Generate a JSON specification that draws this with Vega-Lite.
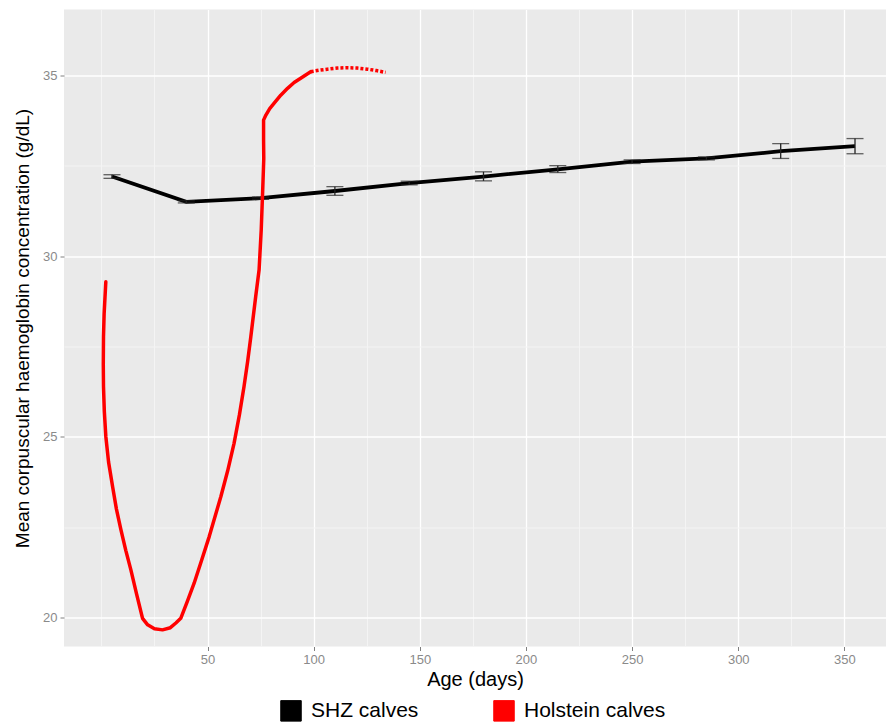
{
  "$schema": "https://vega.github.io/schema/vega-lite/v6.json",
  "autosize": "none",
  "width": 822,
  "height": 637,
  "padding": {"left": 64, "top": 9.5, "right": 3, "bottom": 76.5},
  "background": "white",
  "config": {
    "view": {"fill": "#EAEAEA", "stroke": null},
    "font": "Liberation Sans",
    "axis": {
      "labelFont": "Liberation Sans",
      "labelFontSize": 13,
      "labelColor": "#8a8a8a",
      "tickColor": "#808080",
      "tickSize": 4,
      "domain": false,
      "gridColor": "#FFFFFF",
      "gridWidth": 1.3,
      "titleFont": "Liberation Sans",
      "titleFontWeight": "normal",
      "titleColor": "#000000"
    }
  },
  "datasets": {
    "shz": [
      {"age": 5, "mchc": 32.2, "lo": 32.15, "hi": 32.25, "group": "SHZ calves"},
      {"age": 40, "mchc": 31.5, "lo": 31.47, "hi": 31.53, "group": "SHZ calves"},
      {"age": 75, "mchc": 31.6, "lo": 31.57, "hi": 31.63, "group": "SHZ calves"},
      {"age": 110, "mchc": 31.8, "lo": 31.68, "hi": 31.92, "group": "SHZ calves"},
      {"age": 145, "mchc": 32.02, "lo": 31.97, "hi": 32.07, "group": "SHZ calves"},
      {"age": 180, "mchc": 32.2, "lo": 32.08, "hi": 32.33, "group": "SHZ calves"},
      {"age": 215, "mchc": 32.4, "lo": 32.31, "hi": 32.5, "group": "SHZ calves"},
      {"age": 250, "mchc": 32.61, "lo": 32.56, "hi": 32.66, "group": "SHZ calves"},
      {"age": 285, "mchc": 32.7, "lo": 32.66, "hi": 32.74, "group": "SHZ calves"},
      {"age": 320, "mchc": 32.9, "lo": 32.7, "hi": 33.11, "group": "SHZ calves"},
      {"age": 355, "mchc": 33.04, "lo": 32.83, "hi": 33.25, "group": "SHZ calves"}
    ],
    "hol": [
      {"i": 1, "age": 2.1, "mchc": 29.29, "group": "Holstein calves"},
      {"i": 2, "age": 1.3, "mchc": 28.4, "group": "Holstein calves"},
      {"i": 3, "age": 1.0, "mchc": 27.77, "group": "Holstein calves"},
      {"i": 4, "age": 0.9, "mchc": 27.0, "group": "Holstein calves"},
      {"i": 5, "age": 1.0, "mchc": 26.39, "group": "Holstein calves"},
      {"i": 6, "age": 1.4, "mchc": 25.7, "group": "Holstein calves"},
      {"i": 7, "age": 2.1, "mchc": 25.01, "group": "Holstein calves"},
      {"i": 8, "age": 3.4, "mchc": 24.3, "group": "Holstein calves"},
      {"i": 9, "age": 5.3, "mchc": 23.62, "group": "Holstein calves"},
      {"i": 10, "age": 7.1, "mchc": 23.0, "group": "Holstein calves"},
      {"i": 11, "age": 9.2, "mchc": 22.43, "group": "Holstein calves"},
      {"i": 12, "age": 11.5, "mchc": 21.86, "group": "Holstein calves"},
      {"i": 13, "age": 13.9, "mchc": 21.32, "group": "Holstein calves"},
      {"i": 14, "age": 16.6, "mchc": 20.65, "group": "Holstein calves"},
      {"i": 15, "age": 19.4, "mchc": 19.98, "group": "Holstein calves"},
      {"i": 16, "age": 21.8, "mchc": 19.8, "group": "Holstein calves"},
      {"i": 17, "age": 25.0, "mchc": 19.69, "group": "Holstein calves"},
      {"i": 18, "age": 28.8, "mchc": 19.66, "group": "Holstein calves"},
      {"i": 19, "age": 32.5, "mchc": 19.72, "group": "Holstein calves"},
      {"i": 20, "age": 35.1, "mchc": 19.85, "group": "Holstein calves"},
      {"i": 21, "age": 37.4, "mchc": 19.98, "group": "Holstein calves"},
      {"i": 22, "age": 40.5, "mchc": 20.45, "group": "Holstein calves"},
      {"i": 23, "age": 43.7, "mchc": 20.95, "group": "Holstein calves"},
      {"i": 24, "age": 47.3, "mchc": 21.6, "group": "Holstein calves"},
      {"i": 25, "age": 50.8, "mchc": 22.24, "group": "Holstein calves"},
      {"i": 26, "age": 56.3, "mchc": 23.35, "group": "Holstein calves"},
      {"i": 27, "age": 59.5, "mchc": 24.06, "group": "Holstein calves"},
      {"i": 28, "age": 62.5, "mchc": 24.82, "group": "Holstein calves"},
      {"i": 29, "age": 65.0, "mchc": 25.6, "group": "Holstein calves"},
      {"i": 30, "age": 67.2, "mchc": 26.39, "group": "Holstein calves"},
      {"i": 31, "age": 68.9, "mchc": 27.08, "group": "Holstein calves"},
      {"i": 32, "age": 70.4, "mchc": 27.77, "group": "Holstein calves"},
      {"i": 33, "age": 72.7, "mchc": 28.88, "group": "Holstein calves"},
      {"i": 34, "age": 74.3, "mchc": 29.62, "group": "Holstein calves"},
      {"i": 35, "age": 75.3, "mchc": 30.72, "group": "Holstein calves"},
      {"i": 36, "age": 76.0, "mchc": 31.83, "group": "Holstein calves"},
      {"i": 37, "age": 76.5, "mchc": 32.7, "group": "Holstein calves"},
      {"i": 38, "age": 76.4, "mchc": 33.21, "group": "Holstein calves"},
      {"i": 39, "age": 76.4, "mchc": 33.76, "group": "Holstein calves"},
      {"i": 40, "age": 77.5, "mchc": 33.9, "group": "Holstein calves"},
      {"i": 41, "age": 79.3, "mchc": 34.08, "group": "Holstein calves"},
      {"i": 42, "age": 81.4, "mchc": 34.23, "group": "Holstein calves"},
      {"i": 43, "age": 84.5, "mchc": 34.45, "group": "Holstein calves"},
      {"i": 44, "age": 87.7, "mchc": 34.64, "group": "Holstein calves"},
      {"i": 45, "age": 90.8, "mchc": 34.8, "group": "Holstein calves"},
      {"i": 46, "age": 93.9, "mchc": 34.92, "group": "Holstein calves"},
      {"i": 47, "age": 98.6, "mchc": 35.1, "group": "Holstein calves"}
    ],
    "holdot": [
      {"i": 1, "age": 98.6, "mchc": 35.1},
      {"i": 2, "age": 102.5, "mchc": 35.14},
      {"i": 3, "age": 106.5, "mchc": 35.17},
      {"i": 4, "age": 111.2, "mchc": 35.2},
      {"i": 5, "age": 115.9, "mchc": 35.21},
      {"i": 6, "age": 120.6, "mchc": 35.2},
      {"i": 7, "age": 125.3, "mchc": 35.17},
      {"i": 8, "age": 129.6, "mchc": 35.13},
      {"i": 9, "age": 133.9, "mchc": 35.08}
    ]
  },
  "resolve": {"axis": {"x": "independent", "y": "independent"}},
  "layer": [
    {
      "data": {"name": "shz"},
      "mark": {"type": "line", "color": "black", "strokeWidth": 3.8},
      "encoding": {
        "x": {
          "field": "age", "type": "quantitative",
          "scale": {"domain": [-17.6, 369.6], "nice": false, "zero": false},
          "axis": {
            "orient": "bottom",
            "values": [50, 100, 150, 200, 250, 300, 350],
            "title": "Age (days)",
            "titleFontSize": 20,
            "labelPadding": 3,
            "titlePadding": 3,
            "grid": true
          }
        },
        "y": {
          "field": "mchc", "type": "quantitative",
          "scale": {"domain": [19.2, 36.82], "nice": false, "zero": false},
          "axis": {
            "orient": "left",
            "values": [20, 25, 30, 35],
            "title": "Mean corpuscular haemoglobin concentration (g/dL)",
            "titleFontSize": 19,
            "labelPadding": 3,
            "titlePadding": 10,
            "grid": true
          }
        },
        "color": {
          "field": "group", "type": "nominal",
          "scale": {"domain": ["SHZ calves", "Holstein calves"], "range": ["black", "red"]},
          "legend": {
            "title": null,
            "orient": "none",
            "direction": "horizontal",
            "legendX": 216,
            "legendY": 690,
            "symbolType": "square",
            "symbolSize": 420,
            "labelFontSize": 21,
            "labelFont": "Liberation Sans",
            "labelColor": "black",
            "labelOffset": 9,
            "columnPadding": 72,
            "encode": {
              "symbols": {
                "update": {
                  "fill": {"scale": "color", "field": "value"},
                  "fillOpacity": {"value": 1},
                  "stroke": {"value": "#2a2a70"},
                  "strokeWidth": {"value": 1},
                  "opacity": {"value": 1}
                }
              }
            }
          }
        }
      }
    },
    {
      "data": {"name": "shz"},
      "mark": {"type": "rule", "color": "#222222", "strokeWidth": 1.3},
      "encoding": {
        "x": {"field": "age", "type": "quantitative", "axis": null},
        "y": {"field": "lo", "type": "quantitative", "axis": null},
        "y2": {"field": "hi"}
      }
    },
    {
      "data": {"name": "shz"},
      "mark": {"type": "tick", "orient": "horizontal", "color": "#222222", "size": 17, "thickness": 1.3},
      "encoding": {
        "x": {"field": "age", "type": "quantitative", "axis": null},
        "y": {"field": "lo", "type": "quantitative", "axis": null}
      }
    },
    {
      "data": {"name": "shz"},
      "mark": {"type": "tick", "orient": "horizontal", "color": "#222222", "size": 17, "thickness": 1.3},
      "encoding": {
        "x": {"field": "age", "type": "quantitative", "axis": null},
        "y": {"field": "hi", "type": "quantitative", "axis": null}
      }
    },
    {
      "data": {"name": "hol"},
      "mark": {"type": "line", "strokeWidth": 3.5, "strokeJoin": "round", "strokeCap": "round"},
      "encoding": {
        "x": {
          "field": "age", "type": "quantitative",
          "axis": {
            "orient": "top",
            "values": [0, 25, 75, 125, 175, 225, 275, 325],
            "labels": false, "ticks": false, "title": null,
            "grid": true, "gridColor": "#F4F4F4", "gridWidth": 1
          }
        },
        "y": {
          "field": "mchc", "type": "quantitative",
          "axis": {
            "orient": "right",
            "values": [22.5, 27.5, 32.5],
            "labels": false, "ticks": false, "title": null,
            "grid": true, "gridColor": "#F4F4F4", "gridWidth": 1
          }
        },
        "order": {"field": "i", "type": "quantitative"},
        "color": {"field": "group", "type": "nominal"}
      }
    },
    {
      "data": {"name": "holdot"},
      "mark": {"type": "line", "color": "red", "strokeWidth": 3.5, "strokeDash": [3, 2]},
      "encoding": {
        "x": {"field": "age", "type": "quantitative", "axis": null},
        "y": {"field": "mchc", "type": "quantitative", "axis": null},
        "order": {"field": "i", "type": "quantitative"}
      }
    }
  ]
}
